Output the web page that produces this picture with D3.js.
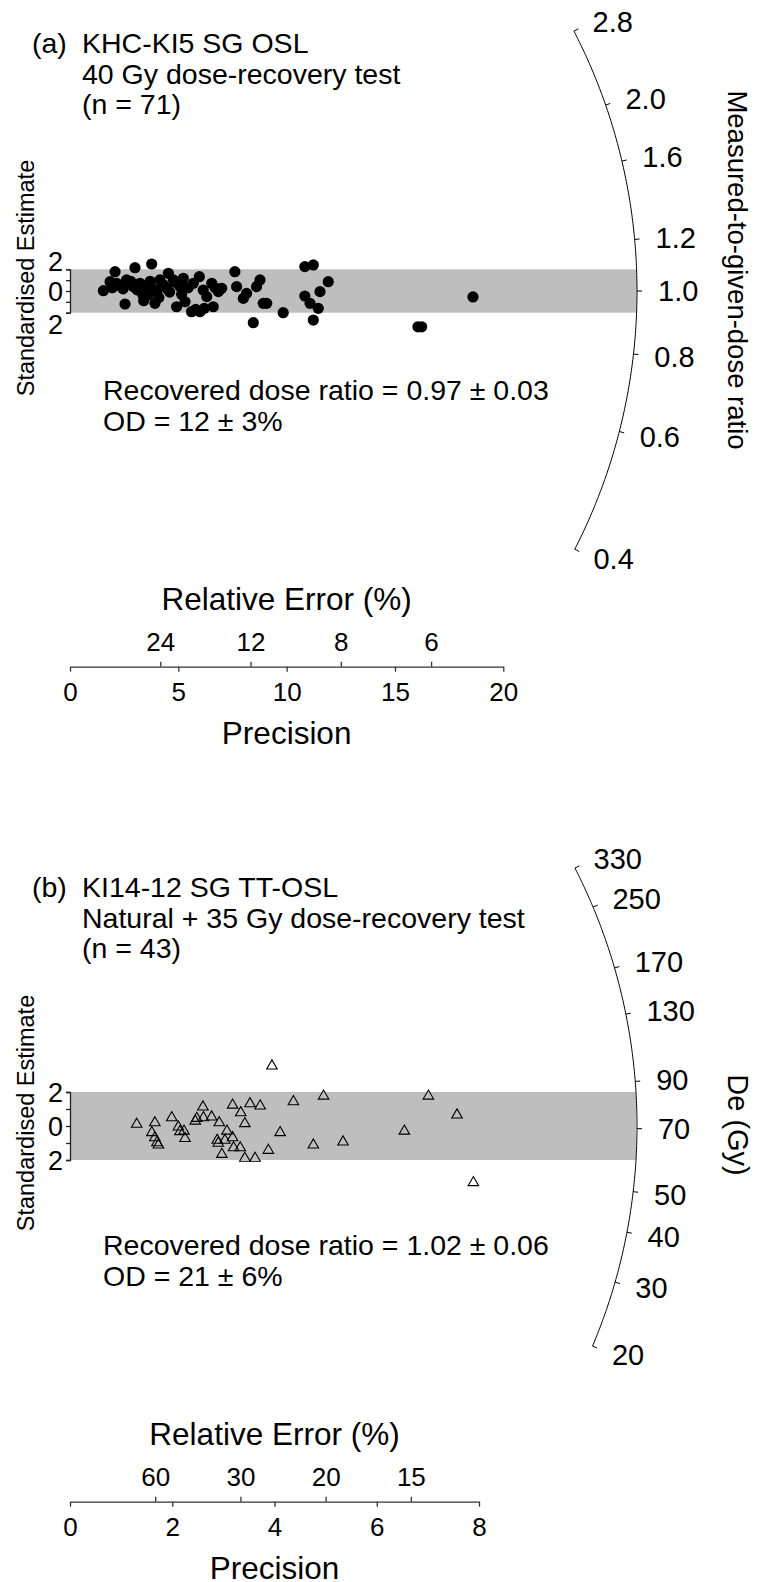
<!DOCTYPE html>
<html><head><meta charset="utf-8">
<script src="https://cdn.jsdelivr.net/npm/d3@7"></script>
<style>
body{margin:0;background:#fff}
svg text{font-family:"Liberation Sans",Arial,Helvetica,sans-serif;fill:#000}
</style>
</head><body>
<svg id="chart" width="758" height="1582"></svg>
<script>
// ---------------- Panel (a) data ----------------
const aTitle = ["KHC-KI5 SG OSL", "40 Gy dose-recovery test", "(n = 71)"];
const aStats = ["Recovered dose ratio = 0.97 ± 0.03", "OD = 12 ± 3%"];
const aArcLabel = "Measured-to-given-dose ratio";
const aPrecision = [1.54,2.08,1.85,2.54,3.00,3.77,2.15,2.61,2.92,3.23,3.54,3.61,3.92,4.00,4.15,4.54,4.46,4.77,4.92,5.08,
  5.23,5.31,5.61,5.69,5.97,6.00,6.15,6.31,6.54,6.61,6.85,7.00,7.61,7.69,8.00,8.15,8.46,8.61,8.77,8.92,
  9.08,9.84,10.84,11.23,10.84,11.08,11.46,11.23,11.54,11.92,18.60,16.23,16.06,
  1.95,2.30,2.45,2.80,3.10,3.35,3.70,3.85,4.30,4.60,4.85,5.15,5.45,5.80,6.20,6.70,3.40,4.10];
const aZ = [0.03,1.78,0.86,-1.20,2.15,2.49,0.71,1.02,0.40,0.71,0.40,-0.37,-1.14,-0.06,1.02,1.63,0.25,1.02,-1.45,0.40,
  1.17,-0.99,-1.91,0.71,1.32,-1.91,0.09,-0.52,0.71,-1.45,-0.06,0.25,1.78,0.40,-0.68,-0.22,-2.92,0.40,1.02,-1.14,
  -1.14,-2.00,2.25,2.40,-0.46,-1.14,-1.60,-2.68,-0.06,0.86,-0.55,-3.30,-3.30,
  0.30,0.50,0.20,0.90,0.10,-0.30,0.90,0.20,0.60,-0.10,0.80,-0.30,0.30,-1.70,-1.60,0.30,-0.90,-0.60];
// tick positions read from the arc (lowest tick sits where ~0.36 falls; it is labelled "0.4")
const aArcTicks = [0.36, 0.6, 0.8, 1.0, 1.2, 1.6, 2.0, 2.8];
const aArcTickLabels = ["0.4","0.6","0.8","1.0","1.2","1.6","2.0","2.8"];
const aArcCentre = 1.0;
const aPrecTicks = [0, 5, 10, 15, 20];
const aRelErrTicks = [24, 12, 8, 6];

// ---------------- Panel (b) data ----------------
const bTitle = ["KI14-12 SG TT-OSL", "Natural + 35 Gy dose-recovery test", "(n = 43)"];
const bStats = ["Recovered dose ratio = 1.02 ± 0.06", "OD = 21 ± 6%"];
const bArcLabel = "De (Gy)";
const bPrecision = [1.305,1.60,1.66,1.66,1.70,1.73,1.99,2.12,2.15,2.23,2.25,2.48,2.60,2.61,2.77,2.92,2.88,2.97,3.03,3.07,
  3.18,3.18,3.20,3.33,3.34,3.42,3.42,3.52,3.62,3.72,3.88,3.95,4.11,4.37,4.76,4.96,5.34,6.54,7.01,7.57,7.89,2.45,2.90];
const bZ = [0.16,-0.33,0.25,-0.63,-0.92,-1.06,0.55,0.00,-0.27,-0.24,-0.67,0.51,1.18,0.55,0.59,0.25,-0.78,-1.61,-0.78,-0.24,
  1.29,-0.63,-1.22,-1.22,0.84,0.20,-1.84,1.37,-1.84,1.24,-1.37,3.59,-0.33,1.49,-1.06,1.82,-0.88,-0.24,1.82,0.71,-3.27,0.35,-0.95];
const bArcTicks = [20, 30, 40, 50, 70, 90, 130, 170, 250, 330];
const bArcTickLabels = ["20","30","40","50","70","90","130","170","250","330"];
const bArcCentre = 71;
const bPrecTicks = [0, 2, 4, 6, 8];
const bRelErrTicks = [60, 30, 20, 15];

// shared
const zTicks = [-2, -1, 0, 1, 2];
const zLabelValues = [2, 0, -2];
const zLabelText = ["2", "0", "2"];
const yAxisTitle = "Standardised Estimate";
const xAxisTitle = "Precision";
const xTopTitle = "Relative Error (%)";

// ---------------- drawing ----------------
const svg = d3.select("#chart");
const R = 567; // arc radius in px
const FF = "Liberation Sans, Arial, sans-serif";

function drawPanel(c) {
  const g = svg.append("g");
  const x = d3.scaleLinear().domain([0, d3.max(c.precTicks)]).range([70, c.xEnd]);
  const y = d3.scaleLinear().domain([-2, 2]).range([c.yBottom, c.yTop]);
  const x0 = x(0), y0 = y(0);
  const sx = x(1) - x(0), sy = y(0) - y(1);
  const lnS = d3.scaleLog().domain([c.centre, c.centre * Math.E]).range([0, 1]);
  function arcPt(D, r) {
    const s = lnS(D);
    const len = Math.hypot(sx, sy * s);
    return [x0 + r * sx / len, y0 - r * sy * s / len];
  }
  // band
  const hb = Math.max(Math.abs(y(2) - y0), Math.abs(y(-2) - y0));
  const xr = x0 + Math.sqrt(R * R - hb * hb);
  g.append("rect").attr("x", x0).attr("y", y(2)).attr("width", xr - x0)
    .attr("height", y(-2) - y(2)).attr("fill", "#bebebe");

  // y axis
  const ya = g.append("g").attr("transform", `translate(${x0},0)`)
    .call(d3.axisLeft(y).tickValues(zTicks).tickSize(4).tickSizeOuter(4).tickFormat(""));
  ya.selectAll("path,line").attr("stroke", "#222").attr("stroke-width", 1.3);
  g.selectAll(".zlab").data(zLabelValues).enter().append("text")
    .attr("x", 63).attr("y", (d, i) => y(d) + c.zNudge[i]).attr("dy", "0.36em")
    .attr("text-anchor", "end").style("font-size", "27px").text((d, i) => zLabelText[i]);

  // x axes
  const ax = g.append("g").attr("transform", `translate(0,${c.axisY})`)
    .call(d3.axisBottom(x).tickValues(c.precTicks).tickSize(5).tickSizeOuter(0).tickPadding(11).tickFormat(d3.format("d")));
  ax.selectAll("path,line").attr("stroke", "#333").attr("stroke-width", 1.3);
  ax.selectAll("text").style("font-size", "26px").attr("fill", "#000").style("font-family", FF);
  const at = g.append("g").attr("transform", `translate(0,${c.axisY})`)
    .call(d3.axisTop(x)
      .tickValues(c.reTicks.map(r => 100 / r)).tickSize(5).tickSizeOuter(0).tickPadding(11)
      .tickFormat((d, i) => String(c.reTicks[i])));
  at.select("path").remove();
  at.selectAll("line").attr("stroke", "#333").attr("stroke-width", 1.3);
  at.selectAll("text").style("font-size", "26px").attr("fill", "#000").style("font-family", FF);
  const xm = (x.range()[0] + x.range()[1]) / 2;
  g.append("text").attr("x", xm).attr("y", c.axisY - 68).attr("dy", "0.35em")
    .attr("text-anchor", "middle").style("font-size", "31.5px").text(xTopTitle);
  g.append("text").attr("x", xm).attr("y", c.axisY + 66.5).attr("dy", "0.35em")
    .attr("text-anchor", "middle").style("font-size", "31.5px").text(xAxisTitle);

  // arc
  const lo = d3.min(c.arcTicks), hi = d3.max(c.arcTicks);
  const samples = d3.range(0, 201).map(i => lo * Math.pow(hi / lo, i / 200));
  g.append("path").attr("d", d3.line()(samples.map(D => arcPt(D, R))))
    .attr("fill", "none").attr("stroke", "#000").attr("stroke-width", 1);
  c.arcTicks.forEach((D, i) => {
    const p1 = arcPt(D, R), p2 = arcPt(D, R + 5), pl = arcPt(D, R + 21);
    g.append("line").attr("x1", p1[0]).attr("y1", p1[1]).attr("x2", p2[0]).attr("y2", p2[1])
      .attr("stroke", "#000").attr("stroke-width", 1);
    g.append("text").attr("x", pl[0]).attr("y", pl[1]).attr("dy", "0.36em")
      .style("font-size", "29px").text(c.arcLabels[i]);
  });

  // points
  if (c.marker === "dot") {
    g.selectAll(".pt").data(c.prec).enter().append("circle")
      .attr("cx", d => x(d)).attr("cy", (d, i) => y(c.z[i])).attr("r", 5.6).attr("fill", "#000");
  } else {
    const tri = d3.symbol().type(d3.symbolTriangle).size(48);
    g.selectAll(".pt").data(c.prec).enter().append("path")
      .attr("d", tri).attr("transform", (d, i) => `translate(${x(d)},${y(c.z[i]) + 1})`)
      .attr("fill", "none").attr("stroke", "#000").attr("stroke-width", 1.1);
  }

  // titles
  g.append("text").attr("x", 32).attr("y", c.titleY[0]).style("font-size", "28.5px").text(c.tag);
  c.title.forEach((t, i) => g.append("text").attr("x", 82).attr("y", c.titleY[i]).style("font-size", "28.5px").text(t));
  c.stats.forEach((t, i) => g.append("text").attr("x", 103).attr("y", c.statsY[i]).style("font-size", "28.5px").text(t));

  // side titles
  g.append("text").attr("transform", `translate(25.5,${c.yTitleY}) rotate(-90)`).attr("dy", "0.35em")
    .attr("text-anchor", "middle").style("font-size", "23.5px").text(yAxisTitle);
  g.append("text").attr("transform", `translate(738,${c.rTitleY}) rotate(90)`).attr("dy", "0.35em")
    .attr("text-anchor", "middle").style("font-size", c.rTitleSize).text(c.arcTitle);
}

drawPanel({
  tag: "(a)", title: aTitle, stats: aStats, arcTitle: aArcLabel,
  prec: aPrecision, z: aZ, arcTicks: aArcTicks, arcLabels: aArcTickLabels, centre: aArcCentre,
  precTicks: aPrecTicks, reTicks: aRelErrTicks, marker: "dot",
  xEnd: 503.3, yTop: 269.3, yBottom: 312.7, axisY: 666.7,
  zNudge: [-8, 0, 12], titleY: [53, 84, 114], statsY: [400, 431],
  yTitleY: 278, rTitleY: 270, rTitleSize: "27.5px"
});
drawPanel({
  tag: "(b)", title: bTitle, stats: bStats, arcTitle: bArcLabel,
  prec: bPrecision, z: bZ, arcTicks: bArcTicks, arcLabels: bArcTickLabels, centre: bArcCentre,
  precTicks: bPrecTicks, reTicks: bRelErrTicks, marker: "tri",
  xEnd: 479, yTop: 1092, yBottom: 1160, axisY: 1501.7,
  zNudge: [0, 0, 0], titleY: [897, 928, 958], statsY: [1255, 1286],
  yTitleY: 1113, rTitleY: 1125, rTitleSize: "29px"
});
</script>
</body></html>
